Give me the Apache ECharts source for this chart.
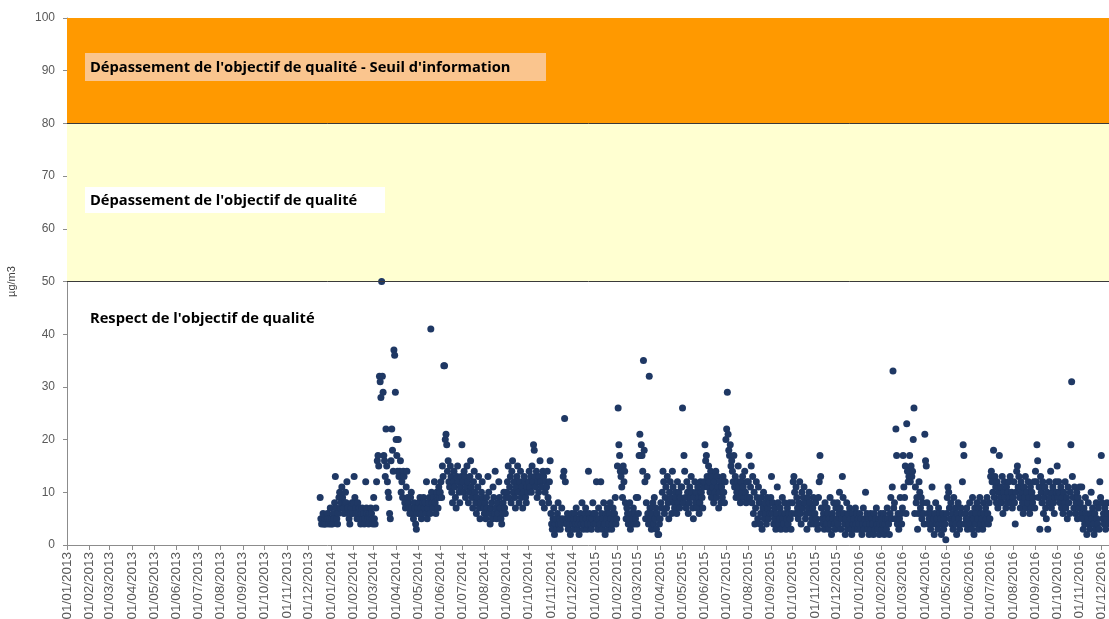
<!DOCTYPE html>
<html>
<head>
<meta charset="utf-8">
<script src="https://cdn.jsdelivr.net/npm/echarts@6/dist/echarts.min.js"></script>
<style>
  html, body { margin: 0; padding: 0; background: #ffffff; }
  #chart { width: 1109px; height: 619px; }
</style>
</head>
<body>
<div id="chart"></div>
<script>
// Daily concentrations (µg/m3). Each year is a list of months, each month a list of daily values from day 1.
const firstDay = '2013-01-01';
const lastDay = '2016-12-31';

// December 2013 starts on the 17th
const dec2013Start = 17;
const dec2013 = [9,5,4,5,6,4,4,5,4,5,6,5,4,5,7];

const y2014 = [
  [4,5,4,6,5,8,13,7,5,4,6,9,10,7,8,11,9,7,6,8,10,8,12,7,6,5,4,6,7,8,6],
  [8,13,9,7,6,5,8,6,7,5,4,6,7,5,6,4,5,12,7,6,5,4,6,5,7,6,5,4],
  [9,5,4,7,12,16,17,15,32,31,28,50,32,29,17,16,13,22,15,12,10,9,6,5,16,22,18,14,37,36,29],
  [20,17,14,20,13,14,16,10,12,9,14,13,8,7,11,14,9,8,7,6,9,10,7,6,5,8,7,4,3,6],
  [7,8,6,9,7,5,6,8,9,7,8,6,12,5,7,8,9,6,41,10,8,7,9,12,8,6,10,9,7,11,9],
  [10,12,9,15,13,34,34,20,21,19,14,16,12,11,15,13,10,8,12,14,11,9,7,13,15,12,10,8,11,13],
  [19,12,10,14,13,9,11,15,12,8,10,13,16,11,9,7,12,14,10,8,6,9,11,13,7,5,8,10,12,9,7],
  [6,8,5,9,7,13,10,6,4,7,8,5,11,9,6,14,7,5,8,6,12,9,7,5,4,6,8,10,7,6,9],
  [10,12,15,9,11,13,8,14,16,10,12,9,7,11,13,15,10,8,12,14,9,11,7,10,13,12,9,8,11,10],
  [12,14,11,13,10,15,12,19,18,13,11,14,9,12,10,13,16,12,11,8,14,13,7,10,12,11,14,9,8,12,16],
  [6,4,3,5,7,2,4,5,3,6,8,4,5,3,4,7,5,13,14,24,12,5,4,6,3,5,4,2,5,6],
  [4,5,3,6,4,7,5,3,4,2,5,6,4,8,5,3,4,6,7,5,3,4,14,6,5,4,3,5,8,6,4]
];

const y2015 = [
  [6,4,12,5,3,7,5,4,12,6,3,5,8,4,2,6,5,7,3,4,6,8,5,3,4,7,5,6,9,4,5],
  [15,26,19,17,14,13,11,9,15,12,14,8,5,7,6,4,5,8,3,6,4,5,7,4,6,5,9,4],
  [9,6,17,21,17,19,17,14,35,18,12,5,8,13,6,4,32,7,5,3,6,8,4,9,5,7,3,6,2,2,4],
  [5,8,7,10,14,12,6,9,11,7,13,8,5,10,12,9,6,14,11,8,7,10,9,6,12,8,10,7,9,11],
  [11,26,8,17,14,9,7,12,10,6,8,11,9,13,10,7,5,9,12,8,10,7,11,9,6,8,12,10,9,7,11],
  [12,19,16,17,13,11,15,12,10,14,9,13,11,8,12,10,14,9,13,11,7,10,12,8,11,9,13,10,8,12],
  [20,22,29,21,18,17,19,15,16,14,12,17,11,13,9,10,12,15,11,9,8,12,10,13,11,9,14,10,8,12,9],
  [12,17,9,11,15,8,13,6,10,4,7,12,9,5,11,8,4,6,9,3,7,10,5,8,6,4,9,7,5,8,6],
  [9,13,6,8,4,7,5,3,6,11,8,4,5,7,3,6,9,5,4,8,6,3,5,7,4,6,8,5,3,6],
  [8,12,13,10,6,11,9,7,5,8,12,6,4,10,7,9,11,8,5,6,3,9,7,10,8,4,6,5,7,9,4],
  [6,8,5,4,3,9,12,17,13,7,5,4,6,3,8,5,4,7,6,3,5,9,4,2,6,5,8,4,3,7],
  [5,8,4,6,10,7,3,5,13,9,6,4,2,5,8,3,6,4,7,5,3,2,6,4,5,3,7,4,6,3,5]
];

const y2016 = [
  [4,6,3,5,2,4,7,3,5,10,4,6,3,5,2,4,6,3,5,4,2,6,3,5,7,4,3,5,2,4,6],
  [5,3,4,6,2,4,5,3,7,5,4,2,6,9,5,11,33,7,8,5,22,17,4,6,3,5,9,6,4],
  [7,17,11,9,15,6,23,14,12,13,17,12,15,13,14,20,26,6,11,8,9,3,6,12,10,7,9,5,8,6,4],
  [21,16,15,8,6,4,5,7,3,6,11,4,5,2,6,8,4,5,3,7,4,6,5,2,4,6,3,5,4,1],
  [6,9,11,10,7,5,8,4,6,3,9,5,7,4,2,6,8,5,3,4,7,6,12,19,17,4,6,5,7,3,4],
  [5,8,4,6,3,9,5,2,7,4,6,8,5,3,7,9,4,6,5,3,8,6,4,7,5,9,6,4,8,5],
  [13,14,12,10,18,9,13,11,8,12,7,10,17,9,11,8,13,6,10,12,9,7,11,8,10,12,9,13,8,10,7],
  [9,12,8,4,10,14,15,11,13,9,7,12,10,8,6,11,9,13,7,10,8,12,9,6,11,7,10,8,9,12,7],
  [14,12,19,16,9,11,3,13,10,8,12,6,9,11,7,5,10,3,8,12,9,14,7,10,11,8,6,9,12,10],
  [15,9,12,10,8,11,7,9,6,10,8,12,7,9,5,11,8,6,10,19,31,13,9,7,11,6,8,10,5,9,7],
  [11,8,6,11,5,3,7,4,9,6,2,5,8,4,3,6,10,5,7,4,2,6,3,8,5,4,7,3,12,9],
  [17,8,5,6,4,7,3,5,8,6,4]
];

// Quality bands (µg/m3)
const bandInfo = [80, 100];
const bandQuality = [50, 80];

const bandTexts = [
  "Dépassement de l'objectif de qualité - Seuil d'information",
  "Dépassement de l'objectif de qualité",
  "Respect de l'objectif de qualité"
];

const yAxisName = 'µg/m3';

// ---- Build the daily category axis and the point list ----
const DAY = 86400000;
const t0 = Date.parse(firstDay + 'T00:00:00Z');
const t1 = Date.parse(lastDay + 'T00:00:00Z');
const pad = n => (n < 10 ? '0' : '') + n;
const categories = [];
for (let t = t0; t <= t1; t += DAY) {
  const d = new Date(t);
  categories.push(pad(d.getUTCDate()) + '/' + pad(d.getUTCMonth() + 1) + '/' + d.getUTCFullYear());
}

const points = [];
function addMonth(year, monthIdx, values, startDay) {
  const nDays = new Date(Date.UTC(year, monthIdx + 1, 0)).getUTCDate();
  values.forEach((v, i) => {
    const day = startDay + i;
    if (day > nDays || v == null) return;
    const idx = Math.round((Date.UTC(year, monthIdx, day) - t0) / DAY);
    points.push([idx, v]);
  });
}
addMonth(2013, 11, dec2013, dec2013Start);
[[2014, y2014], [2015, y2015], [2016, y2016]].forEach(([yr, months]) => {
  months.forEach((vals, m) => addMonth(yr, m, vals, 1));
});

const isMonthStart = (i, v) => v.slice(0, 2) === '01';

const chart = echarts.init(document.getElementById('chart'), null, { renderer: 'canvas' });

const axisFont = '"Liberation Sans", Arial, sans-serif';
const noteFont = '"Open Sans", "Liberation Sans", sans-serif';

chart.setOption({
  animation: false,
  backgroundColor: '#ffffff',
  grid: { left: 67, top: 18, bottom: 74, right: -14, containLabel: false, outerBoundsMode: 'none' },
  xAxis: {
    type: 'category',
    data: categories,
    boundaryGap: false,
    axisLine: { show: true, lineStyle: { color: '#8c8c8c', width: 1 } },
    axisTick: { show: true, interval: isMonthStart, length: 5, lineStyle: { color: '#8c8c8c' } },
    axisLabel: {
      interval: isMonthStart,
      rotate: 90,
      margin: 7,
      fontSize: 13.5,
      color: '#595959',
      fontFamily: axisFont
    },
    splitLine: { show: false }
  },
  yAxis: {
    type: 'value',
    min: 0,
    max: 100,
    interval: 10,
    name: yAxisName,
    nameLocation: 'middle',
    nameRotate: 90,
    nameGap: 50,
    nameTextStyle: { fontSize: 11, color: '#404040', fontFamily: axisFont },
    axisLine: { show: true, lineStyle: { color: '#8c8c8c', width: 1 } },
    axisTick: { show: true, length: 4, lineStyle: { color: '#8c8c8c' } },
    axisLabel: { fontSize: 12, color: '#595959', margin: 12, fontFamily: axisFont },
    splitLine: { show: false }
  },
  series: [
    {
      // band backgrounds and threshold lines
      type: 'line',
      data: [],
      silent: true,
      z: 1,
      markArea: {
        silent: true,
        data: [
          [{ yAxis: bandQuality[0], itemStyle: { color: '#ffffd1' } }, { yAxis: bandQuality[1] }],
          [{ yAxis: bandInfo[0], itemStyle: { color: '#ff9900' } }, { yAxis: bandInfo[1] }]
        ]
      },
      markLine: {
        silent: true,
        symbol: 'none',
        label: { show: false },
        lineStyle: { color: '#3a3a3a', type: 'solid', width: 1 },
        data: [{ yAxis: bandQuality[0] }, { yAxis: bandInfo[0] }]
      }
    },
    {
      type: 'scatter',
      data: points,
      symbol: 'circle',
      symbolSize: 7,
      z: 3,
      itemStyle: { color: '#1f3864', opacity: 1 }
    }
  ],
  graphic: [
    { type: 'rect', left: 85, top: 53, shape: { width: 461, height: 28 }, style: { fill: '#fac58e' }, z: 10 },
    { type: 'text', left: 90, top: 60, style: { text: bandTexts[0], font: 'bold 14.7px ' + noteFont, fill: '#000000' }, z: 11 },
    { type: 'rect', left: 85, top: 187, shape: { width: 300, height: 26 }, style: { fill: '#ffffff' }, z: 10 },
    { type: 'text', left: 90, top: 193, style: { text: bandTexts[1], font: 'bold 14.7px ' + noteFont, fill: '#000000' }, z: 11 },
    { type: 'text', left: 90, top: 311, style: { text: bandTexts[2], font: 'bold 14.7px ' + noteFont, fill: '#000000' }, z: 11 }
  ]
});
</script>
</body>
</html>
